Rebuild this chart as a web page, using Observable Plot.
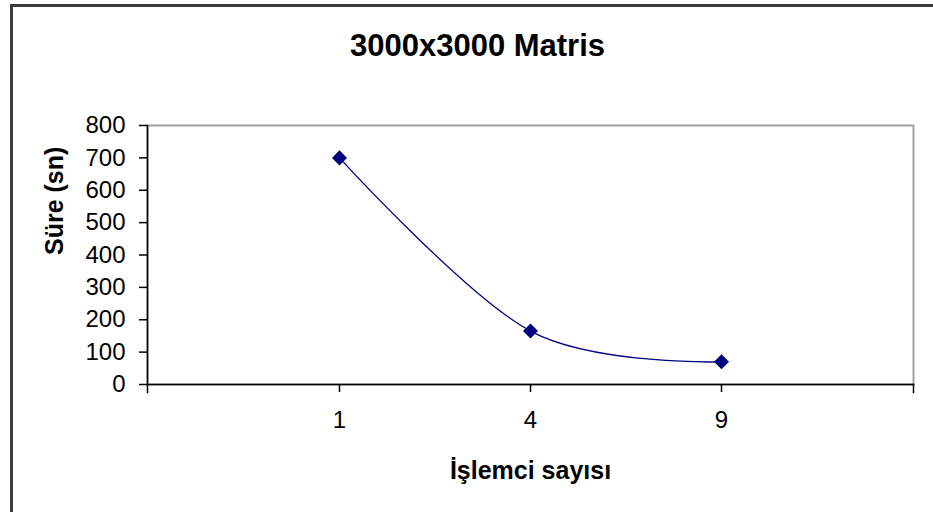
<!DOCTYPE html>
<html>
<head>
<meta charset="utf-8">
<script src="https://cdn.jsdelivr.net/npm/d3@7"></script>
<script src="https://cdn.jsdelivr.net/npm/@observablehq/plot@0.6"></script>
<style>
  html, body { margin: 0; padding: 0; background: white; overflow: hidden; }
  #wrap { position: relative; width: 933px; height: 512px; }
  #border { position: absolute; left: 10px; top: 4px; width: 1000px; height: 600px;
            border-left: 3px solid #3c3c3c; border-top: 3px solid #3c3c3c; pointer-events: none; }
</style>
</head>
<body>
<div id="wrap"><div id="border"></div></div>
<script>
const categories = ["1", "4", "9"];
const times = [700, 165, 70];
const yTicks = [0, 100, 200, 300, 400, 500, 600, 700, 800];
const title = "3000x3000 Matris";
const xLabel = "İşlemci sayısı";
const yLabel = "Süre (sn)";

const data = categories.map((c, i) => ({n: c, t: times[i]}));

const chart = Plot.plot({
  width: 933,
  height: 512,
  marginLeft: 147,
  marginRight: 20,
  marginTop: 125,
  marginBottom: 128,
  style: {fontFamily: "'Liberation Sans', Arial, sans-serif", background: "white", color: "black"},
  x: {type: "point", domain: categories, padding: 1},
  y: {domain: [0, 800]},
  marks: [
    Plot.frame({stroke: "#a0a0a0", strokeWidth: 2}),
    Plot.axisY(yTicks, {tickSize: 8, tickPadding: 14, fontSize: 24, label: null, strokeWidth: 1.5}),
    Plot.axisX({tickSize: 8, tickPadding: 18, fontSize: 24, label: null, strokeWidth: 1.5}),
    Plot.frame({anchor: "left", insetBottom: -8, stroke: "black", strokeWidth: 1.5}),
    Plot.frame({anchor: "bottom", stroke: "black", strokeWidth: 1.5}),
    Plot.frame({anchor: "right", insetTop: 259, insetBottom: -8, stroke: "black", strokeWidth: 1.5}),
    Plot.line(data, {x: "n", y: "t", curve: "cardinal", stroke: "#000080", strokeWidth: 1.3}),
    Plot.dot(data, {x: "n", y: "t", symbol: "square", rotate: 45, r: 6, fill: "#000080", stroke: "none"}),
    Plot.text([title], {frameAnchor: "top", dx: -53, dy: -70, lineAnchor: "bottom", fontSize: 31, fontWeight: "bold"}),
    Plot.text([yLabel], {frameAnchor: "left", dx: -93, rotate: -90, fontSize: 25, fontWeight: "bold"}),
    Plot.text([xLabel], {frameAnchor: "bottom", dy: 94, lineAnchor: "bottom", fontSize: 25, fontWeight: "bold"})
  ]
});
document.getElementById("wrap").insertBefore(chart, document.getElementById("border"));
</script>
</body>
</html>
